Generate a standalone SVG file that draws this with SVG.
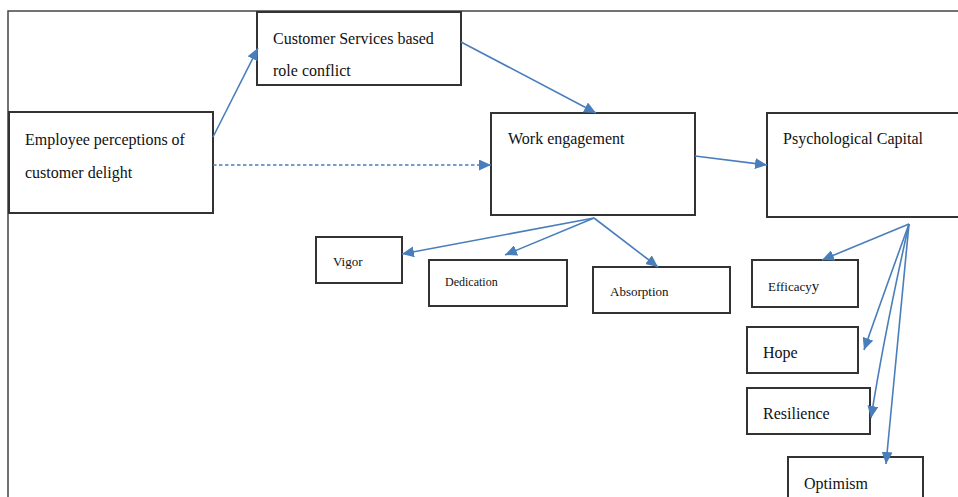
<svg xmlns="http://www.w3.org/2000/svg" width="958" height="497" viewBox="0 0 958 497">
<defs>
<marker id="ah" markerUnits="userSpaceOnUse" markerWidth="13" markerHeight="11" refX="12" refY="5.5" orient="auto">
<path d="M0,0 L12,5.5 L0,11 Z" fill="#4a7ebb"/>
</marker>
</defs>
<style>
.box{fill:#fff;stroke:#333;stroke-width:2}
.t{font-family:"Liberation Serif","Times New Roman",serif;fill:#111;font-size:16px}
.s{font-size:13px}
.c{stroke:#4a7ebb;stroke-width:1.6;fill:none;marker-end:url(#ah)}
</style>
<rect width="958" height="497" fill="#fff"/>
<path d="M8,497 V11 H958" fill="none" stroke="#444" stroke-width="1.5"/>
<g id="employee"><rect class="box" x="9" y="112" width="204" height="101"/><text class="t" x="25" y="145">Employee perceptions of</text><text class="t" x="25" y="178">customer delight</text></g>
<g id="role-conflict"><rect class="box" x="257" y="12" width="204" height="73"/><text class="t" x="273" y="44">Customer Services based</text><text class="t" x="273" y="76">role conflict</text></g>
<g id="work-engagement"><rect class="box" x="491" y="113" width="204" height="102"/><text class="t" x="508" y="144">Work engagement</text></g>
<g id="psycap"><rect class="box" x="767" y="113" width="192" height="104"/><text class="t" x="783" y="144">Psychological Capital</text></g>
<g id="vigor"><rect class="box" x="316" y="237" width="86" height="46"/><text class="t s" x="333" y="266">Vigor</text></g>
<g id="dedication"><rect class="box" x="429" y="260" width="138" height="46"/><text class="t" x="445" y="286" style="font-size:12px">Dedication</text></g>
<g id="absorption"><rect class="box" x="593" y="267" width="137" height="46"/><text class="t s" x="610" y="296">Absorption</text></g>
<g id="efficacy"><rect class="box" x="752" y="260" width="106" height="47"/><text class="t s" x="768" y="291">Efficacy<tspan style="font-size:15px">y</tspan></text></g>
<g id="hope"><rect class="box" x="747" y="327" width="111" height="46"/><text class="t" x="763" y="358">Hope</text></g>
<g id="resilience"><rect class="box" x="747" y="388" width="123" height="46"/><text class="t" x="763" y="419">Resilience</text></g>
<g id="optimism"><rect class="box" x="788" y="457" width="135" height="50"/><text class="t" x="804" y="489">Optimism</text></g>
<g id="connectors">
<line class="c" x1="213" y1="137" x2="258" y2="48"/>
<line class="c" x1="213" y1="165" x2="491" y2="165" stroke-dasharray="3.5,2.5"/>
<line class="c" x1="461" y1="42" x2="596" y2="113"/>
<line class="c" x1="695" y1="156" x2="767" y2="165"/>
<line class="c" x1="594" y1="218" x2="402" y2="254"/>
<line class="c" x1="594" y1="218" x2="505" y2="255"/>
<line class="c" x1="594" y1="218" x2="658" y2="267"/>
<line class="c" x1="909" y1="224" x2="822" y2="260"/>
<path class="c" d="M909,224 Q885,290 864,350"/>
<path class="c" d="M909,224 Q885,330 871,418"/>
<line class="c" x1="909" y1="224" x2="886" y2="464"/>
</g>
</svg>
